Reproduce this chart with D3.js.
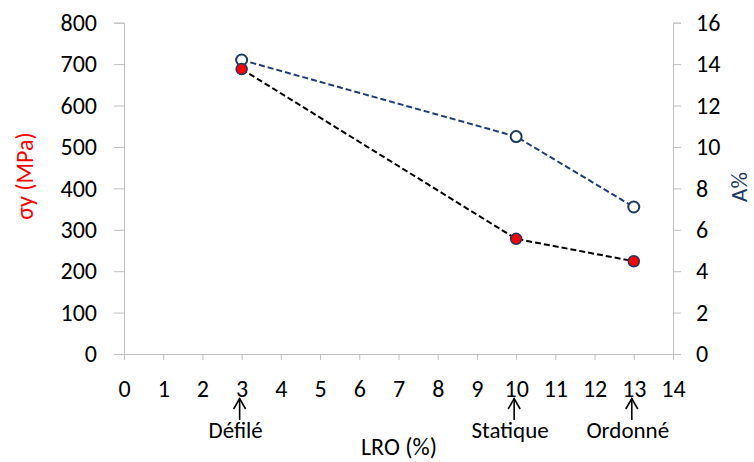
<!DOCTYPE html>
<html><head><meta charset="utf-8">
<script src="https://cdn.jsdelivr.net/npm/d3@7"></script>
<style>body{margin:0;background:#fff}svg{display:block;font-family:Carlito,Calibri,Lato,sans-serif}</style>
</head><body><svg id="c" width="754" height="462"></svg>
<script>
const lro = [3, 10, 13];
const sigmaY = [688, 278, 224];
const elongation = [14.2, 10.5, 7.1];
const xTicks = d3.range(0, 15, 1);
const yLeftTicks = d3.range(0, 900, 100);
const yRightTicks = d3.range(0, 18, 2);
const annotations = [{x: 3, label: "Défilé"}, {x: 10, label: "Statique"}, {x: 13, label: "Ordonné"}];

const svg = d3.select("#c");
const L = 124, R = 673, T = 22.7, B = 354;
const x = d3.scaleLinear().domain([0, 14]).range([L, R]);
const yL = d3.scaleLinear().domain([0, 800]).range([B, T]);
const yR = d3.scaleLinear().domain([0, 16]).range([B, T]);
const axisCol = "#bfbfbf";

function styleAxis(g){
  g.attr("font-family", null).attr("font-size", null);
  g.selectAll("path,line").attr("stroke", axisCol).attr("stroke-width", 1);
  g.selectAll("text").attr("fill", "#000").style("font-size", "24px");
}
svg.append("g").attr("transform", `translate(0,${B})`)
  .call(d3.axisBottom(x).tickValues(xTicks).tickFormat(d3.format("d")).tickSizeOuter(0).tickSize(6).tickPadding(20))
  .call(styleAxis);
svg.append("g").attr("transform", `translate(${L},0)`)
  .call(d3.axisLeft(yL).tickValues(yLeftTicks).tickSizeOuter(0).tickSize(10).tickPadding(17))
  .call(styleAxis);
svg.append("g").attr("transform", `translate(${R},0)`)
  .call(d3.axisRight(yR).tickValues(yRightTicks).tickSizeOuter(0).tickSize(8).tickPadding(15))
  .call(styleAxis);

// Titles
svg.append("text").attr("transform", `translate(33,176) rotate(-90)`)
  .attr("text-anchor", "middle").attr("fill", "#ff0000").style("font-size", "24px").text("σy (MPa)");
svg.append("text").attr("transform", `translate(747,187) rotate(-90)`)
  .attr("text-anchor", "middle").attr("fill", "#1f3864").style("font-size", "23px").text("A%");
svg.append("text").attr("x", 399).attr("y", 455).attr("text-anchor", "middle")
  .attr("fill", "#000").style("font-size", "24px").text("LRO (%)");

// Annotations with arrows
const ann = svg.append("g");
annotations.forEach(a => {
  const ax = x(a.x) - 2;
  ann.append("line").attr("x1", ax).attr("x2", ax).attr("y1", 398).attr("y2", 420).attr("stroke", "#000").attr("stroke-width", 1.6);
  ann.append("path").attr("d", `M${ax-6},${409}L${ax},${398.5}L${ax+6},${409}`).attr("fill", "none").attr("stroke", "#000").attr("stroke-width", 1.6);
  ann.append("text").attr("x", ax - 4).attr("y", 438).attr("text-anchor", "middle").attr("fill", "#000").style("font-size", "23px").text(a.label);
});

// Series
const dataS = lro.map((v, i) => ({x: v, y: sigmaY[i]}));
const dataA = lro.map((v, i) => ({x: v, y: elongation[i]}));
svg.append("path").datum(dataA).attr("fill", "none").attr("stroke", "#1f3d7a").attr("stroke-width", 2).attr("stroke-dasharray", "6,3")
  .attr("d", d3.line().x(d => x(d.x)).y(d => yR(d.y)));
svg.append("path").datum(dataS).attr("fill", "none").attr("stroke", "#000").attr("stroke-width", 2).attr("stroke-dasharray", "6,3")
  .attr("d", d3.line().x(d => x(d.x)).y(d => yL(d.y)));
svg.selectAll(".ma").data(dataA).join("circle").attr("cx", d => x(d.x)).attr("cy", d => yR(d.y)).attr("r", 5.5)
  .attr("fill", "#fff").attr("stroke", "#1f3864").attr("stroke-width", 2);
svg.selectAll(".ms").data(dataS).join("circle").attr("cx", d => x(d.x)).attr("cy", d => yL(d.y)).attr("r", 5.5)
  .attr("fill", "#ff0000").attr("stroke", "#1f3864").attr("stroke-width", 1.5);
</script></body></html>
